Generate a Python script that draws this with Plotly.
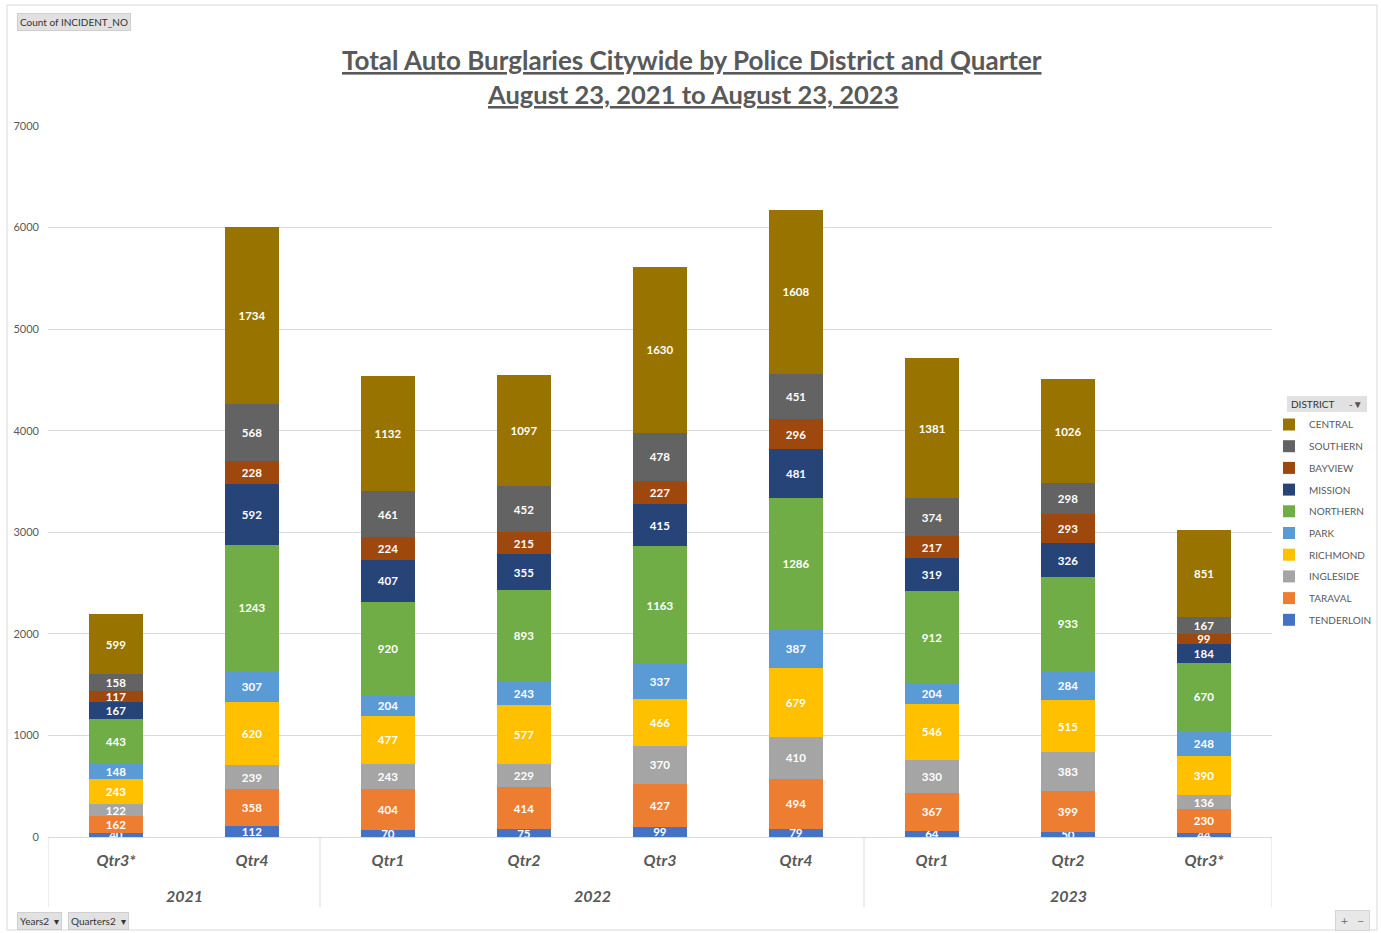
import plotly.graph_objects as go

# ---------------- data ----------------
quarters = ["Qtr3*", "Qtr4", "Qtr1", "Qtr2", "Qtr3", "Qtr4", "Qtr1", "Qtr2", "Qtr3*"]
years = ["2021", "2022", "2023"]
year_first_idx = [0, 2, 6]
year_last_idx = [1, 5, 8]

districts = ["TENDERLOIN", "TARAVAL", "INGLESIDE", "RICHMOND", "PARK",
             "NORTHERN", "MISSION", "BAYVIEW", "SOUTHERN", "CENTRAL"]

tenderloin = [40, 112, 70, 75, 99, 79, 64, 50, 44]
taraval = [162, 358, 404, 414, 427, 494, 367, 399, 230]
ingleside = [122, 239, 243, 229, 370, 410, 330, 383, 136]
richmond = [243, 620, 477, 577, 466, 679, 546, 515, 390]
park = [148, 307, 204, 243, 337, 387, 204, 284, 248]
northern = [443, 1243, 920, 893, 1163, 1286, 912, 933, 670]
mission = [167, 592, 407, 355, 415, 481, 319, 326, 184]
bayview = [117, 228, 224, 215, 227, 296, 217, 293, 99]
southern = [158, 568, 461, 452, 478, 451, 374, 298, 167]
central = [599, 1734, 1132, 1097, 1630, 1608, 1381, 1026, 851]

values = [tenderloin, taraval, ingleside, richmond, park,
          northern, mission, bayview, southern, central]

colors = ["#4472C4", "#ED7D31", "#A5A5A5", "#FFC000", "#5B9BD5",
          "#70AD47", "#264478", "#9E480E", "#636363", "#997300"]

y_ticks = [0, 1000, 2000, 3000, 4000, 5000, 6000, 7000]

# ---------------- geometry helpers ----------------
W, H = 1381, 933
ML, MR, MT, MB = 48, 109, 126, 96
PW = W - ML - MR
PH = H - MT - MB


def px_x(p):
    return (p - ML) / PW


def px_y(p):
    return (H - MB - p) / PH


FONT = "Lato"
GRAY = "#595959"

x_pos = list(range(len(quarters)))

fig = go.Figure()
n = len(districts)
for i, (name, vals, col) in enumerate(zip(districts, values, colors)):
    fig.add_trace(go.Bar(
        x=x_pos, y=vals, name=name, marker=dict(color=col, line=dict(width=0)),
        text=vals, textposition="inside", insidetextanchor="middle",
        constraintext="none", textangle=0,
        textfont=dict(family=FONT, size=11.5, color="white", weight="bold"),
        legendgroup=name, legendrank=n - i,
    ))

annotations = []
# title lines
annotations.append(dict(text="<u>Total Auto Burglaries Citywide by Police District and Quarter</u>",
                        xref="paper", yref="paper", x=px_x(692), y=px_y(60),
                        xanchor="center", yanchor="middle", showarrow=False,
                        font=dict(family=FONT, size=26, color=GRAY, weight="bold")))
annotations.append(dict(text="<u>August 23, 2021 to August 23, 2023</u>",
                        xref="paper", yref="paper", x=px_x(692), y=px_y(94),
                        xanchor="center", yanchor="middle", showarrow=False,
                        font=dict(family=FONT, size=25.5, color=GRAY, weight="bold")))
# year labels
for yr, a, b in zip(years, year_first_idx, year_last_idx):
    annotations.append(dict(text=yr, xref="x", yref="paper", x=(a + b) / 2, y=px_y(895),
                            xanchor="center", yanchor="middle", showarrow=False,
                            font=dict(family=FONT, size=16, color=GRAY, weight="bold", style="italic")))
# pivot buttons
annotations.append(dict(text="Count of INCIDENT_NO", xref="paper", yref="paper",
                        x=px_x(17), y=px_y(22.5), xanchor="left", yanchor="middle",
                        showarrow=False, bgcolor="#e1e1e1", bordercolor="#cfcfcf", borderwidth=1,
                        borderpad=2, font=dict(family=FONT, size=10, color="#333333")))
annotations.append(dict(text="Years2  ▾", xref="paper", yref="paper",
                        x=px_x(17), y=px_y(921), xanchor="left", yanchor="middle",
                        showarrow=False, bgcolor="#e1e1e1", bordercolor="#cfcfcf", borderwidth=1,
                        borderpad=2, font=dict(family=FONT, size=10, color="#333333")))
annotations.append(dict(text="Quarters2  ▾", xref="paper", yref="paper",
                        x=px_x(68), y=px_y(921), xanchor="left", yanchor="middle",
                        showarrow=False, bgcolor="#e1e1e1", bordercolor="#cfcfcf", borderwidth=1,
                        borderpad=2, font=dict(family=FONT, size=10, color="#333333")))
annotations.append(dict(text=" +   − ", xref="paper", yref="paper",
                        x=px_x(1352), y=px_y(921), xanchor="center", yanchor="middle",
                        showarrow=False, bgcolor="#e8e8e8", bordercolor="#d5d5d5", borderwidth=1,
                        borderpad=2, font=dict(family=FONT, size=12, color="#777777")))
# legend header
annotations.append(dict(text="DISTRICT", xref="paper", yref="paper",
                        x=px_x(1289), y=px_y(404), xanchor="left", yanchor="middle",
                        showarrow=False, font=dict(family=FONT, size=10, color="#333333")))
annotations.append(dict(text="-▼", xref="paper", yref="paper",
                        x=px_x(1356), y=px_y(404), xanchor="center", yanchor="middle",
                        showarrow=False, font=dict(family=FONT, size=10, color="#555555")))

shapes = []
# outer frame
shapes.append(dict(type="rect", xref="paper", yref="paper",
                   x0=px_x(7), x1=px_x(1377), y0=px_y(930), y1=px_y(5),
                   line=dict(color="#d9d9d9", width=1), fillcolor="rgba(0,0,0,0)", layer="below"))
# legend header background
shapes.append(dict(type="rect", xref="paper", yref="paper",
                   x0=px_x(1287), x1=px_x(1367), y0=px_y(412), y1=px_y(396),
                   line=dict(width=0), fillcolor="#e1e1e1", layer="below"))
# category dividers
for d in [-0.5, 1.5, 5.5, 8.5]:
    shapes.append(dict(type="line", xref="x", yref="paper", x0=d, x1=d,
                       y0=0, y1=px_y(907), line=dict(color="#d9d9d9", width=1)))

fig.update_layout(
    width=W, height=H,
    margin=dict(l=ML, r=MR, t=MT, b=MB, autoexpand=False),
    paper_bgcolor="white", plot_bgcolor="white",
    barmode="stack", bargap=0.596,
    font=dict(family=FONT, color=GRAY),
    xaxis=dict(range=[-0.5, len(quarters) - 0.5], tickvals=x_pos, ticktext=quarters,
               showgrid=False, zeroline=False, showline=True, linecolor="#d9d9d9",
               ticks="", ticklabelstandoff=9,
               tickfont=dict(family=FONT, size=16, color=GRAY, weight="bold", style="italic")),
    yaxis=dict(range=[0, 7000], tickvals=y_ticks, showgrid=True, gridcolor="#d9d9d9",
               zeroline=False, showline=False, ticks="", ticklabelstandoff=8,
               tickfont=dict(family=FONT, size=11, color=GRAY)),
    legend=dict(x=px_x(1269), y=px_y(410), xanchor="left", yanchor="top",
                traceorder="grouped", tracegroupgap=2.7, itemclick=False,
                font=dict(family=FONT, size=10, color=GRAY), bgcolor="rgba(0,0,0,0)",
                itemwidth=30),
    annotations=annotations,
    shapes=shapes,
    showlegend=True,
)

fig.write_html("out.html", config={"displayModeBar": False},
               post_script="document.body.style.margin='0';")
